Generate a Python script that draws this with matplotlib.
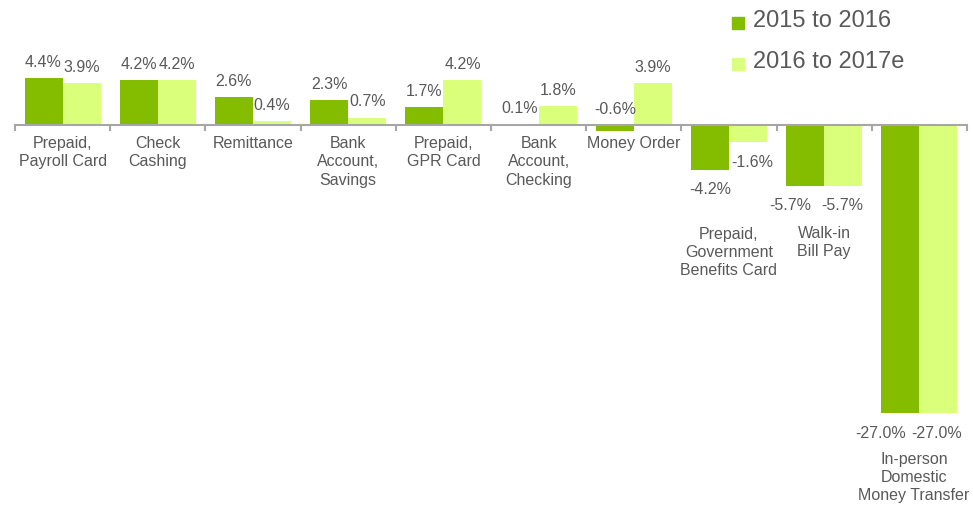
import numpy as np
import matplotlib
matplotlib.use("Agg")
import matplotlib.pyplot as plt
from matplotlib.patches import Rectangle

plt.rcParams['font.family'] = ['Liberation Sans', 'DejaVu Sans']

# --- data ---
categories = ["Prepaid,\nPayroll Card", "Check\nCashing", "Remittance",
              "Bank\nAccount,\nSavings", "Prepaid,\nGPR Card",
              "Bank\nAccount,\nChecking", "Money Order",
              "Prepaid,\nGovernment\nBenefits Card", "Walk-in\nBill Pay",
              "In-person\nDomestic\nMoney Transfer"]
g_2015_2016 = [4.4, 4.2, 2.6, 2.3, 1.7, 0.1, -0.6, -4.2, -5.7, -27.0]
g_2016_2017 = [3.9, 4.2, 0.4, 0.7, 4.2, 1.8, 3.9, -1.6, -5.7, -27.0]
series_names = ["2015 to 2016", "2016 to 2017e"]

dark = "#84BC00"
light = "#D9FF7B"
txt = "#595959"
axis_col = "#A6A6A6"

W, H = 973, 505
fig = plt.figure(figsize=(W / 100, H / 100), dpi=100)
ax = fig.add_axes([15 / W, 0, 952 / W, 1])
ax.set_xlim(-0.5, 9.5)
ax.set_ylim(-35.62, 11.72)

x = np.arange(len(categories))
w = 0.4
ax.bar(x - w / 2, g_2015_2016, w, color=dark, zorder=2)
ax.bar(x + w / 2, g_2016_2017, w, color=light, zorder=2)

# axis line at zero with ticks between groups
for s in ["top", "right", "left"]:
    ax.spines[s].set_visible(False)
ax.spines["bottom"].set_position(("data", 0))
ax.spines["bottom"].set_color(axis_col)
ax.spines["bottom"].set_linewidth(1.5)
ax.set_yticks([])
ax.set_xticks(np.arange(-0.5, 10, 1))
ax.set_xticklabels([])
ax.tick_params(axis="x", direction="out", length=4, width=1.5, color=axis_col)

# value labels (pairs of equal negative values pushed apart)
for k, (vals, off) in enumerate([(g_2015_2016, -w / 2), (g_2016_2017, w / 2)]):
    for i, v in enumerate(vals):
        if v > -1:
            ax.annotate(f"{v:.1f}%", (i + off, max(v, 0)), xytext=(0, 8),
                        textcoords="offset points", ha="center", va="baseline",
                        fontsize=11.5, color=txt)
        else:
            other = (g_2015_2016, g_2016_2017)[1 - k][i]
            dx = 0 if k == 0 else 3
            if other < -1 and abs(other - v) < 1:
                dx = -11 if k == 0 else -1
                if v < -10:
                    dx = -14 if k == 0 else -1
            ax.annotate(f"{v:.1f}%", (i + off, v), xytext=(dx, -9),
                        textcoords="offset points", ha="center", va="top",
                        fontsize=11.5, color=txt)

# category labels
extra = {7: 12, 9: -1}
shift = {9: -4}
for i, name in enumerate(categories):
    low = min(g_2015_2016[i], g_2016_2017[i])
    if low > -1:
        anchor, dy = 0, -8
    else:
        anchor, dy = low, -29 - extra.get(i, 0)
    ax.annotate(name, (i, anchor), xytext=(shift.get(i, 0), dy),
                textcoords="offset points", ha="center", va="top",
                fontsize=11.5, color=txt, linespacing=1.27)

# legend, drawn by hand in figure pixels
for j, (name, c) in enumerate(zip(series_names, (dark, light))):
    base = 27 + 41 * j
    fig.patches.append(Rectangle((732 / W, 1 - (base + 2) / H), 12 / W, 12 / H,
                                 transform=fig.transFigure, color=c))
    fig.text(753 / W, 1 - base / H, name, fontsize=17, color=txt,
             va="baseline", ha="left")

fig.savefig("out.png", dpi=100)
